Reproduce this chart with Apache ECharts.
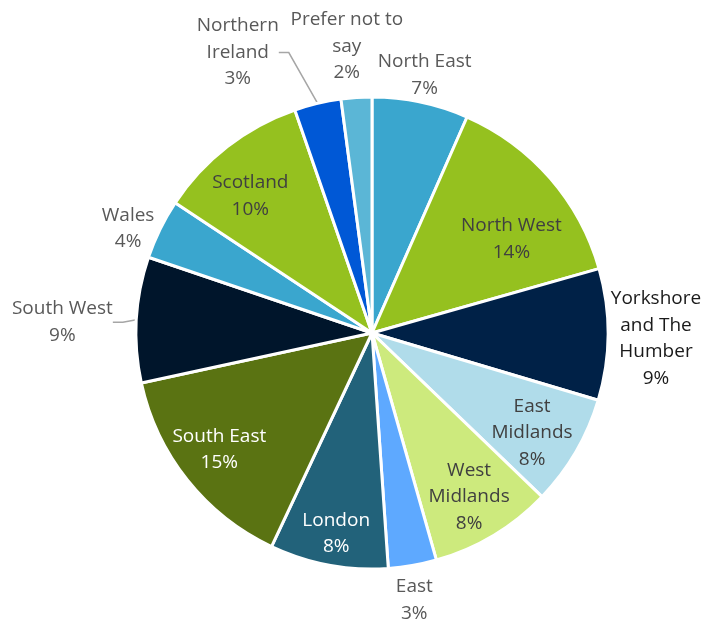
<!DOCTYPE html>
<html lang="en">
<head>
    <meta charset="utf-8"/>
    <title>Respondents by region</title>
    <script src="https://cdn.jsdelivr.net/npm/echarts@6/dist/echarts.min.js"></script>
    <style>
        html, body { margin: 0; padding: 0; background: #fff; }
        #main { width: 701px; height: 619px; }
    </style>
</head>
<body>
<div id="main"></div>
<script>
    // data (share of respondents, %)
    var regions = ['North East', 'North West', 'Yorkshore\nand The\nHumber', 'East\nMidlands', 'West\nMidlands',
        'East', 'London', 'South East', 'South West', 'Wales', 'Scotland', 'Northern\nIreland', 'Prefer not to\nsay'];
    var shares = [6.6, 14.0, 9.0, 7.6, 8.4, 3.3, 8.1, 14.6, 8.6, 4.1, 10.4, 3.2, 2.1];

    // styling
    var sliceColors = ['#3aa6ce', '#95c11f', '#002147', '#b0dcea', '#cdea7d', '#5ea9ff', '#22627a',
        '#5a7312', '#00152b', '#3aa6ce', '#95c11f', '#0058d6', '#5bb6d6'];
    var textColors = ['#595959', '#404040', '#1a1a1a', '#404040', '#404040', '#595959', '#ffffff',
        '#ffffff', '#595959', '#595959', '#404040', '#595959', '#595959'];
    var inside = [false, true, false, true, true, false, true, true, false, false, true, false, false];
    var withLine = [false, false, false, false, false, false, false, false, true, false, false, true, false];
    // nudge of each label block from where echarts puts it
    var labelOffsets = [[-3, -17], [-3, 30], [33, 4], [-3, 5], [0, 2], [-5, 25], [-1, 15],
        [-5, -1], [-51, 3], [-18, 4], [-6, 12], [-63, -43], [-4, -41]];

    var CX = 372, CY = 333, R = 236;

    var pieData = regions.map(function (name, i) {
        return {
            name: name,
            value: shares[i],
            itemStyle: {color: sliceColors[i]},
            label: {position: inside[i] ? 'inside' : 'outside', color: textColors[i]},
            labelLine: {show: withLine[i], length: withLine[i] ? 8 : 10, length2: withLine[i] ? 10 : 0}
        };
    });

    var chart = echarts.init(document.getElementById('main'));
    var option = {
        backgroundColor: '#ffffff',
        animation: false,
        series: [{
            type: 'pie',
            center: [CX, CY],
            radius: R,
            startAngle: 90,
            avoidLabelOverlap: false,
            data: pieData,
            itemStyle: {borderColor: '#ffffff', borderWidth: 3},
            label: {
                fontFamily: 'Open Sans',
                fontSize: 19,
                lineHeight: 26.5,
                formatter: function (p) {
                    return p.name + '\n' + Math.round(p.percent) + '%';
                }
            },
            labelLine: {lineStyle: {color: '#a6a6a6', width: 1.5}},
            labelLayout: function (p) {
                var off = labelOffsets[p.dataIndex];
                var box = p.labelRect;
                var x, y = box.y + box.height / 2;
                if (inside[p.dataIndex]) {
                    x = box.x + box.width / 2;
                    x = CX + (x - CX) * 1.56;
                    y = CY + (y - CY) * 1.56;
                } else if (p.align === 'right') {
                    x = box.x + box.width;
                } else {
                    x = box.x;
                }
                return {x: x + off[0], y: y + off[1], align: 'center', verticalAlign: 'middle'};
            }
        }]
    };
    chart.setOption(option);
</script>
</body>
</html>
